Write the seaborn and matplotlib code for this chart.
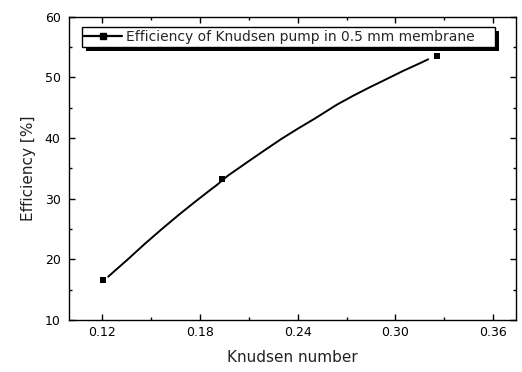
import matplotlib
matplotlib.use("Agg")
import matplotlib.pyplot as plt
import seaborn as sns
from matplotlib.lines import Line2D
from matplotlib.patches import Rectangle
from matplotlib.ticker import MultipleLocator

# data
point_x = [0.1204, 0.1935, 0.3253]
point_y = [16.6, 33.28, 53.45]
curve_x = [0.1237, 0.1360, 0.1462, 0.1565, 0.1667, 0.1769, 0.1872, 0.1902,
           0.1973, 0.2096, 0.2199, 0.2301, 0.2403, 0.2506, 0.2639, 0.2741,
           0.2843, 0.2946, 0.3048, 0.3150, 0.3201]
curve_y = [17.14, 20.05, 22.55, 24.95, 27.25, 29.45, 31.6, 32.2,
           33.8, 36.1, 38.0, 39.85, 41.55, 43.2, 45.45, 46.95,
           48.35, 49.7, 51.05, 52.3, 52.95]
x_ticks = [0.12, 0.18, 0.24, 0.30, 0.36]
x_tick_labels = ["0.12", "0.18", "0.24", "0.30", "0.36"]
y_ticks = [10, 20, 30, 40, 50, 60]
legend_label = "Efficiency of Knudsen pump in 0.5 mm membrane"

sns.set_style("ticks")
plt.rcParams["font.family"] = ["DejaVu Sans"]

fig = plt.figure(figsize=(5.22, 3.72), dpi=100)
ax = fig.add_axes([0.132, 0.1398, 0.8565, 0.8158])

sns.lineplot(x=curve_x, y=curve_y, ax=ax, color="black", linewidth=1.4,
             sort=False, estimator=None)
sns.scatterplot(x=point_x, y=point_y, ax=ax, color="black", marker="s",
                s=22, edgecolor="black", linewidth=0, zorder=3)

ax.set_xlim(0.0996, 0.374)
ax.set_ylim(10, 60)
ax.set_xticks(x_ticks)
ax.set_xticklabels(x_tick_labels)
ax.set_yticks(y_ticks)
ax.xaxis.set_minor_locator(MultipleLocator(0.03))
ax.yaxis.set_minor_locator(MultipleLocator(5))
ax.tick_params(which="both", direction="in", top=True, right=True,
               colors="black", labelsize=9, width=1)
ax.tick_params(axis="x", which="major", length=4, pad=4)
ax.tick_params(axis="y", which="major", length=4, pad=6)
ax.tick_params(which="minor", length=2.5)
for sp in ax.spines.values():
    sp.set_visible(True)
    sp.set_color("black")
    sp.set_linewidth(1.0)

ax.set_xlabel("Knudsen number", fontsize=11, labelpad=8, color="#222222")
ax.set_ylabel("Efficiency [%]", fontsize=11, labelpad=6, color="#222222")

handle = Line2D([], [], color="black", linewidth=1.6, marker="s",
                markersize=4.5)
leg = ax.legend([handle], [legend_label], loc="upper left",
                bbox_to_anchor=(0.0284, 0.9038, 0.9246, 0.0606),
                mode="expand", fontsize=10, frameon=True,
                fancybox=False, edgecolor="black", framealpha=1,
                handlelength=2.7, handletextpad=0.3, borderpad=0.2,
                borderaxespad=0.0)
leg.get_frame().set_linewidth(1.0)
leg.set_zorder(6)

fig.canvas.draw()
bb = leg.get_window_extent()
inv = ax.transAxes.inverted()
(x0, y0) = inv.transform((bb.x0 + 4, bb.y0 - 4))
(x1, y1) = inv.transform((bb.x1 + 4, bb.y1 - 4))
shadow = Rectangle((x0, y0), x1 - x0, y1 - y0, transform=ax.transAxes,
                   facecolor="black", edgecolor="none", clip_on=False,
                   zorder=5)
ax.add_patch(shadow)

fig.savefig("out.png", dpi=100, facecolor="white")
